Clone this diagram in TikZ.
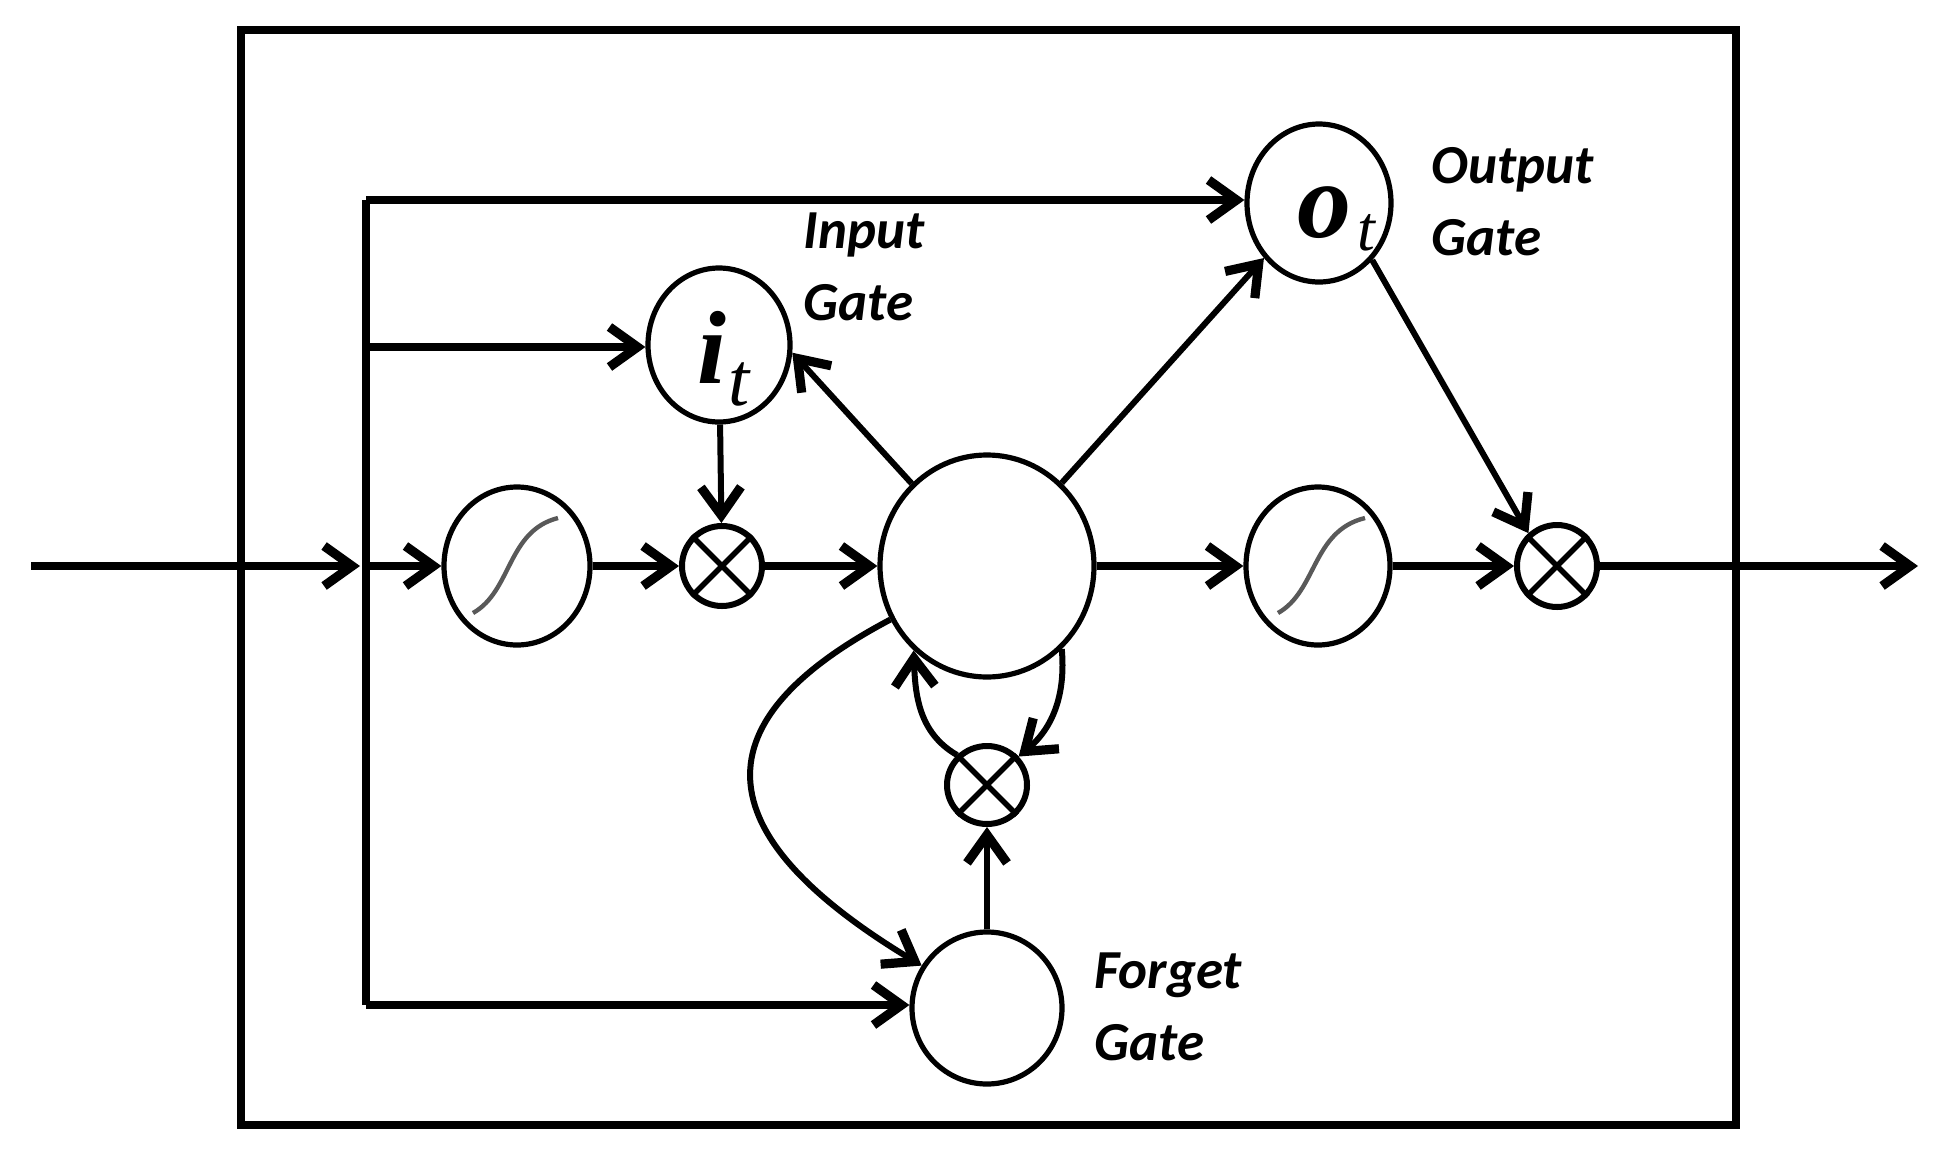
\documentclass[tikz,border=0pt]{standalone}
\usepackage{fontspec}
\setmainfont{Carlito}
\newfontfamily\gsym{Liberation Serif}
\usetikzlibrary{arrows.meta,shapes.geometric}
\tikzset{
  conn/.style={line width=3.6pt},
  arr/.style={conn,-{Straight Barb[length=14pt,width=20pt,line width=4.6pt]}},
  thinarr/.style={line width=3pt,-{Straight Barb[length=14pt,width=20pt,line width=4.6pt]}},
  unit/.style={draw,ellipse,line width=2.6pt,inner sep=0pt},
  mult/.style={unit,line width=3pt},
  crossln/.style={line width=2.8pt},
  lbl/.style={font=\fontsize{27.5}{36}\selectfont\bfseries\itshape,align=left,anchor=north west,inner sep=0pt},
  sigc/.style={line width=2.2pt,draw=black!65},
  frame/.style={line width=3.6pt},
}
\begin{document}
\begin{tikzpicture}[x=0.5pt,y=-0.5pt]
\useasboundingbox (0,0) rectangle (1940,1168);
% frame
\draw[frame] (241,30) rectangle (1736,1125);

% units
\node[unit,minimum width=73pt,minimum height=79pt] (sig1) at (517,566) {};
\node[mult,minimum width=40pt,minimum height=40pt] (m1) at (722,566) {};
\node[unit,minimum width=107pt,minimum height=111pt] (c) at (987,566) {};
\node[unit,minimum width=72pt,minimum height=79pt] (sig2) at (1318,566) {};
\node[mult,minimum width=40pt,minimum height=41pt] (m2) at (1557,566) {};
\node[mult,minimum width=40pt,minimum height=39pt] (m3) at (987,785) {};
\node[unit,minimum width=75pt,minimum height=76pt] (fg) at (987,1008) {};

% gate symbols
\node[inner sep=0pt,anchor=base west] (itsym) at (697,383)
  {\gsym\fontsize{52}{52}\selectfont\bfseries\itshape i\kern1pt\raisebox{-11pt}{\fontsize{38}{38}\selectfont\mdseries t}};
\node[inner sep=0pt,anchor=base west] (otsym) at (1297,237)
  {\gsym\fontsize{54}{54}\selectfont\bfseries\itshape o\kern3pt\raisebox{-6.5pt}{\fontsize{32}{32}\selectfont\mdseries t}};
\node[unit,minimum width=71pt,minimum height=77pt] (it) at (719,345) {};
\node[unit,minimum width=72pt,minimum height=79pt] (ot) at (1319,203) {};

% crosses
\foreach \n in {m1,m2,m3}{
  \draw[crossln] (\n.45) -- (\n.-135) (\n.135) -- (\n.-45);
}

% sigmoid curves
\draw[sigc,shift={(sig1)}] (-44,47) .. controls (-5,25) and (-10,-35) .. (41,-48);
\draw[sigc,shift={(sig2)}] (-40,47) .. controls (-1,25) and (-6,-35) .. (47,-48);

% labels
\node[lbl] (inlbl) at (803,212) {Input\\Gate};
\node[lbl] (outlbl) at (1431,147) {Output\\Gate};
\node[lbl] (fglbl) at (1094,952) {Forget\\Gate};

% bus
\coordinate (in) at (31,566);
\coordinate (injoin) at (360,566);
\coordinate (btop) at (366,200);
\coordinate (bmid) at (366,347);
\coordinate (bin) at (366,566);
\coordinate (bbot) at (366,1005);
\coordinate (out) at (1918,566);

\draw[conn] (bbot) -- (btop);
\draw[arr] (in) -- (injoin);
\draw[arr] (btop) -- (btop -| ot.west);
\draw[arr] (bmid) -- (bmid -| it.west);
\draw[arr] (bin) -- (sig1.west);
\draw[arr] (bbot) -- (bbot -| fg.west);

% main flow
\draw[arr] (sig1) -- (m1);
\draw[thinarr] (it) -- (m1);
\draw[arr] (m1) -- (c);
\draw[thinarr] (c) -- (it.-6);
\draw[thinarr] (c) -- (ot.-135);
\draw[arr] (c) -- (sig2);
\draw[arr] (sig2) -- (m2);
\draw[thinarr] (ot.-47) -- (m2.131);
\draw[arr] (m2) -- (out);

% recurrence
\draw[thinarr] (c.-151) .. controls (700,720) and (700,832) .. (fg.147);
\draw[thinarr] (fg) -- (m3);
\draw[thinarr] (m3.135) to[out=150,in=-88] (c.-131);
\draw[thinarr] (c.-48) to[out=-85,in=40] (m3.42);
\end{tikzpicture}
\end{document}
